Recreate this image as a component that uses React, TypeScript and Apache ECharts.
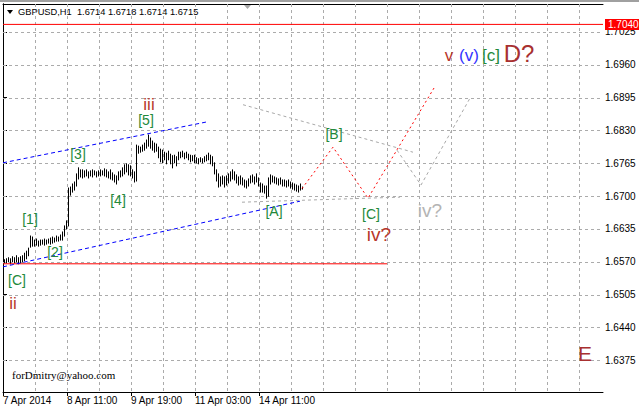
import React, { useEffect, useRef } from "react";
import * as echarts from "echarts";

// Chart header: symbol, timeframe and last bar OHLC
const headerText = "GBPUSD,H1  1.6714 1.6718 1.6714 1.6715";

// Time axis: bar index of each labelled tick and its label
const timeTickBars = [0, 32, 64, 96, 128];
const timeTickLabels = ["7 Apr 2014", "8 Apr 11:00", "9 Apr 19:00", "11 Apr 03:00", "14 Apr 11:00"];
// Vertical grid every 16 bars
const timeGridBars = [16, 32, 48, 64, 80, 96, 112, 128, 144, 160, 176, 192, 208, 224, 240, 256, 272, 288];

// Price axis ticks
const priceTicks = [1.6375, 1.644, 1.6505, 1.657, 1.6635, 1.67, 1.6765, 1.683, 1.6895, 1.696, 1.7025];
const priceMin = 1.63122;
const priceMax = 1.70804;

// Hourly bars (high / low)
const barHigh = [
  1.6574, 1.6576, 1.6578, 1.6576, 1.658, 1.6578, 1.6582, 1.6578, 1.658, 1.6582,
  1.6587, 1.6591, 1.6597, 1.6621, 1.6619, 1.6613, 1.6615, 1.6611, 1.6613, 1.6613,
  1.6615, 1.6613, 1.6615, 1.6617, 1.6619, 1.6617, 1.6621, 1.6619, 1.6623, 1.6629,
  1.6641, 1.6651, 1.6716, 1.6718, 1.6724, 1.6728, 1.6744, 1.6756, 1.6752, 1.6752,
  1.675, 1.6752, 1.6748, 1.675, 1.6752, 1.675, 1.6748, 1.675, 1.6752, 1.675,
  1.6754, 1.6752, 1.6748, 1.6752, 1.6746, 1.6742, 1.674, 1.6748, 1.675, 1.6756,
  1.6762, 1.6764, 1.6762, 1.676, 1.6752, 1.6748, 1.6801, 1.6799, 1.6797, 1.6801,
  1.6805, 1.6811, 1.6821, 1.6815, 1.6809, 1.6805, 1.6803, 1.6797, 1.6793, 1.6791,
  1.6787, 1.6785, 1.6789, 1.6783, 1.678, 1.6781, 1.6778, 1.6787, 1.6787, 1.6789,
  1.6785, 1.6787, 1.6783, 1.6781, 1.678, 1.6781, 1.6776, 1.6774, 1.6776, 1.6774,
  1.6778, 1.6781, 1.6785, 1.6781, 1.6778, 1.6766, 1.6752, 1.6744, 1.6738, 1.674,
  1.6738, 1.674, 1.6744, 1.6748, 1.6752, 1.6748, 1.6742, 1.6738, 1.674, 1.6736,
  1.6732, 1.673, 1.6734, 1.674, 1.6742, 1.6738, 1.6744, 1.6736, 1.6726, 1.6724,
  1.672, 1.672, 1.6736, 1.6742, 1.674, 1.6738, 1.6736, 1.6734, 1.6736, 1.6732,
  1.6732, 1.673, 1.6732, 1.6728, 1.6726, 1.6724, 1.6722, 1.672, 1.6724, 1.6718,
];
const barLow = [
  1.6568, 1.6568, 1.657, 1.6566, 1.657, 1.6568, 1.657, 1.6566, 1.6568, 1.657,
  1.6572, 1.6576, 1.6582, 1.6599, 1.6601, 1.6601, 1.6603, 1.6601, 1.6603, 1.6605,
  1.6603, 1.6605, 1.6607, 1.6605, 1.6607, 1.6609, 1.6611, 1.6611, 1.6613, 1.6613,
  1.6621, 1.6635, 1.6641, 1.6702, 1.6708, 1.6712, 1.672, 1.6734, 1.6738, 1.6736,
  1.6738, 1.674, 1.6736, 1.674, 1.6738, 1.6742, 1.6738, 1.674, 1.674, 1.6742,
  1.674, 1.6738, 1.6736, 1.6734, 1.6732, 1.6728, 1.6724, 1.6732, 1.6738, 1.674,
  1.6744, 1.6748, 1.6742, 1.674, 1.6736, 1.6728, 1.673, 1.6785, 1.6787, 1.6789,
  1.6791, 1.6795, 1.6799, 1.6795, 1.6791, 1.6787, 1.6789, 1.6776, 1.6768, 1.6766,
  1.6772, 1.6764, 1.6772, 1.6764, 1.6756, 1.6766, 1.676, 1.6772, 1.6776, 1.6778,
  1.6774, 1.6776, 1.6772, 1.6768, 1.677, 1.6766, 1.6766, 1.6764, 1.6768, 1.6766,
  1.6768, 1.677, 1.6772, 1.6764, 1.676, 1.6744, 1.673, 1.6718, 1.672, 1.6724,
  1.6718, 1.6722, 1.6726, 1.673, 1.6734, 1.6732, 1.6726, 1.6722, 1.6724, 1.6722,
  1.6718, 1.6716, 1.672, 1.6726, 1.6728, 1.6724, 1.6728, 1.672, 1.6708, 1.6708,
  1.6706, 1.6696, 1.67, 1.6724, 1.6728, 1.6726, 1.6724, 1.6722, 1.6724, 1.672,
  1.672, 1.6718, 1.672, 1.6716, 1.6714, 1.6712, 1.671, 1.6708, 1.6712, 1.6714,
];

// Price alert level
const alertPrice = 1.704;

// Drawn objects: [bar index, price]
const supportLine = [[0, 1.6566], [192, 1.6566]];
const channelUpper = [[0, 1.6766], [102, 1.6847]];
const channelLower = [[0, 1.656], [148.5, 1.669]];
const mainPath = [[149.5, 1.6715], [165, 1.6797], [182.5, 1.6696], [215.5, 1.6914]];
const altTriangleUpper = [[120, 1.6881], [205, 1.6787]];
const altTriangleLower = [[119.5, 1.6688], [198.5, 1.6698]];
const altPath = [[197, 1.6791], [209, 1.6722], [233.5, 1.6894]];

const RED_BROWN = "#b8372a";
const WAVE_GREEN = "#23893a";
const FONT = "'Liberation Sans', Arial, sans-serif";
const GRID_COLOR = "#ababab";

function waveText(x: number, y: number, text: string, color: string, size: number) {
  return {
    type: "text",
    x,
    y,
    silent: true,
    z: 10,
    style: {
      text,
      fill: color,
      font: `${size}px ${FONT}`,
      textAlign: "center",
      textVerticalAlign: "middle",
    },
  };
}

// Snap to the middle of a device pixel so 1px lines stay crisp
const crisp = (v: number) => Math.round(v) + 0.5;

export default function App() {
  const ref = useRef<HTMLDivElement>(null);

  useEffect(() => {
    document.body.style.margin = "0";
    if (!ref.current) return;
    const chart = echarts.init(ref.current, undefined, { renderer: "svg" });

    const bars = barHigh.map((h, i) => [i + 0.5, h, barLow[i]]);

    const lineSeries = (data: number[][], color: string, type: any, z = 5) => ({
      type: "line",
      data,
      xAxisIndex: 0,
      yAxisIndex: 0,
      symbol: "none",
      silent: true,
      z,
      lineStyle: { color, width: 1, type },
    });

    const gridStyle = { stroke: GRID_COLOR, lineWidth: 1, lineDash: [3, 3], fill: null };
    const frameLine = { show: true, lineStyle: { color: "#000", width: 1 } };

    chart.setOption({
      animation: false,
      backgroundColor: "#ffffff",
      grid: { left: 3, top: 4, width: 600, height: 388, show: false },
      xAxis: [
        {
          // top frame edge, carries the data
          type: "value",
          min: 0,
          max: 300,
          position: "top",
          axisLine: frameLine,
          axisTick: { show: false },
          axisLabel: { show: false },
          splitLine: { show: false },
        },
        {
          type: "value",
          min: 0,
          max: 300,
          position: "bottom",
          axisLine: frameLine,
          axisTick: { show: true, customValues: timeTickBars, length: 4, lineStyle: { color: "#000" } },
          axisLabel: {
            customValues: timeTickBars,
            formatter: (v: number) => timeTickLabels[timeTickBars.indexOf(v)] ?? "",
            align: "left",
            margin: 3,
            color: "#000",
            fontSize: 10,
            fontFamily: FONT,
          },
          splitLine: { show: false },
        },
      ],
      yAxis: [
        {
          type: "value",
          position: "right",
          min: priceMin,
          max: priceMax,
          axisLine: frameLine,
          axisTick: { show: true, customValues: priceTicks, length: 4, lineStyle: { color: "#000" } },
          axisLabel: {
            customValues: priceTicks,
            formatter: (v: number) => v.toFixed(4),
            margin: 2,
            color: "#000",
            fontSize: 10,
            fontFamily: FONT,
          },
          splitLine: { show: false },
        },
        {
          // left frame edge
          type: "value",
          position: "left",
          min: priceMin,
          max: priceMax,
          axisLine: frameLine,
          axisTick: { show: false },
          axisLabel: { show: false },
          splitLine: { show: false },
        },
      ],
      series: [
        {
          // horizontal dashed grid at each price tick
          type: "custom",
          data: priceTicks.map((p) => [150, p]),
          encode: { x: 0, y: 1 },
          silent: true,
          z: 2,
          renderItem: (_params: any, api: any) => {
            const a = api.coord([0, api.value(1)]);
            const b = api.coord([300, api.value(1)]);
            const y = crisp(a[1]);
            return { type: "line", shape: { x1: a[0], y1: y, x2: b[0], y2: y }, style: gridStyle };
          },
        },
        {
          // vertical dashed grid every 16 bars
          type: "custom",
          data: timeGridBars.map((t) => [t, priceMin]),
          encode: { x: 0, y: 1 },
          silent: true,
          z: 2,
          renderItem: (_params: any, api: any) => {
            const a = api.coord([api.value(0), priceMax]);
            const b = api.coord([api.value(0), priceMin]);
            const x = crisp(a[0]);
            return { type: "line", shape: { x1: x, y1: a[1], x2: x, y2: b[1] }, style: gridStyle };
          },
        },
        {
          type: "custom",
          data: bars,
          encode: { x: 0, y: [1, 2] },
          silent: true,
          z: 4,
          renderItem: (_params: any, api: any) => {
            const x = api.value(0);
            const top = api.coord([x, api.value(1)]);
            const bottom = api.coord([x, api.value(2)]);
            const px = Math.floor(top[0]) + 0.5;
            return {
              type: "line",
              shape: { x1: px, y1: top[1] - 0.5, x2: px, y2: bottom[1] + 0.5 },
              style: { stroke: "#000000", lineWidth: 1 },
            };
          },
        },
        {
          ...lineSeries([[0, alertPrice], [300, alertPrice]], "#ff0000", "solid", 6),
          endLabel: {
            show: true,
            distance: 2,
            formatter: () => alertPrice.toFixed(4),
            color: "#ffffff",
            backgroundColor: "#ff0000",
            padding: [0, 3, 0, 3],
            lineHeight: 11,
            fontSize: 10,
            fontFamily: FONT,
          },
        },
        lineSeries(supportLine, "#ff0000", "solid"),
        lineSeries(channelUpper, "#0000ff", [4, 3]),
        lineSeries(channelLower, "#0000ff", [4, 3]),
        lineSeries(altTriangleUpper, "#a8a8a8", [3, 3]),
        lineSeries(altTriangleLower, "#a8a8a8", [3, 3]),
        lineSeries(altPath, "#a8a8a8", [3, 3]),
        lineSeries(mainPath, "#ff0000", [2, 3]),
      ],
      graphic: [
        { type: "rect", shape: { x: 0, y: 0, width: 639, height: 2 }, style: { fill: "#a0a0a0" }, silent: true },
        { type: "polygon", shape: { points: [[244, 5], [251, 5], [247.5, 9]] }, style: { fill: "#a8a8a8" }, silent: true },
        { type: "polygon", shape: { points: [[7, 10], [13, 10], [10, 14]] }, style: { fill: "#000" }, silent: true },
        {
          type: "text",
          x: 18,
          y: 12,
          silent: true,
          style: { text: headerText, fill: "#000", font: `9.3px ${FONT}`, textVerticalAlign: "middle" },
        },
        waveText(149, 104, "iii", RED_BROWN, 17),
        waveText(146, 120, "[5]", WAVE_GREEN, 14),
        waveText(78, 154, "[3]", WAVE_GREEN, 14),
        waveText(30, 219, "[1]", WAVE_GREEN, 14),
        waveText(55, 252, "[2]", WAVE_GREEN, 14),
        waveText(118, 200, "[4]", WAVE_GREEN, 14),
        waveText(274, 211, "[A]", WAVE_GREEN, 14),
        waveText(17, 280, "[C]", WAVE_GREEN, 14),
        waveText(13, 303, "ii", RED_BROWN, 17),
        waveText(334, 134, "[B]", WAVE_GREEN, 14),
        waveText(371, 214, "[C]", WAVE_GREEN, 14),
        waveText(379, 234, "iv?", RED_BROWN, 19),
        waveText(430, 210, "iv?", "#b4b4b4", 19),
        waveText(449, 55, "v", RED_BROWN, 17),
        waveText(469, 55, "(v)", "#3333ff", 17),
        waveText(491, 55, "[c]", WAVE_GREEN, 17),
        waveText(519, 53, "D?", "#a83030", 24),
        waveText(585, 353, "E", "#a83030", 21),
        {
          type: "text",
          x: 12,
          y: 375,
          silent: true,
          style: {
            text: "forDmitry@yahoo.com",
            fill: "#000",
            font: "11px 'Liberation Serif', 'Times New Roman', serif",
            textVerticalAlign: "middle",
          },
        },
      ],
    });

    return () => chart.dispose();
  }, []);

  return <div ref={ref} style={{ width: 639, height: 409 }} />;
}
